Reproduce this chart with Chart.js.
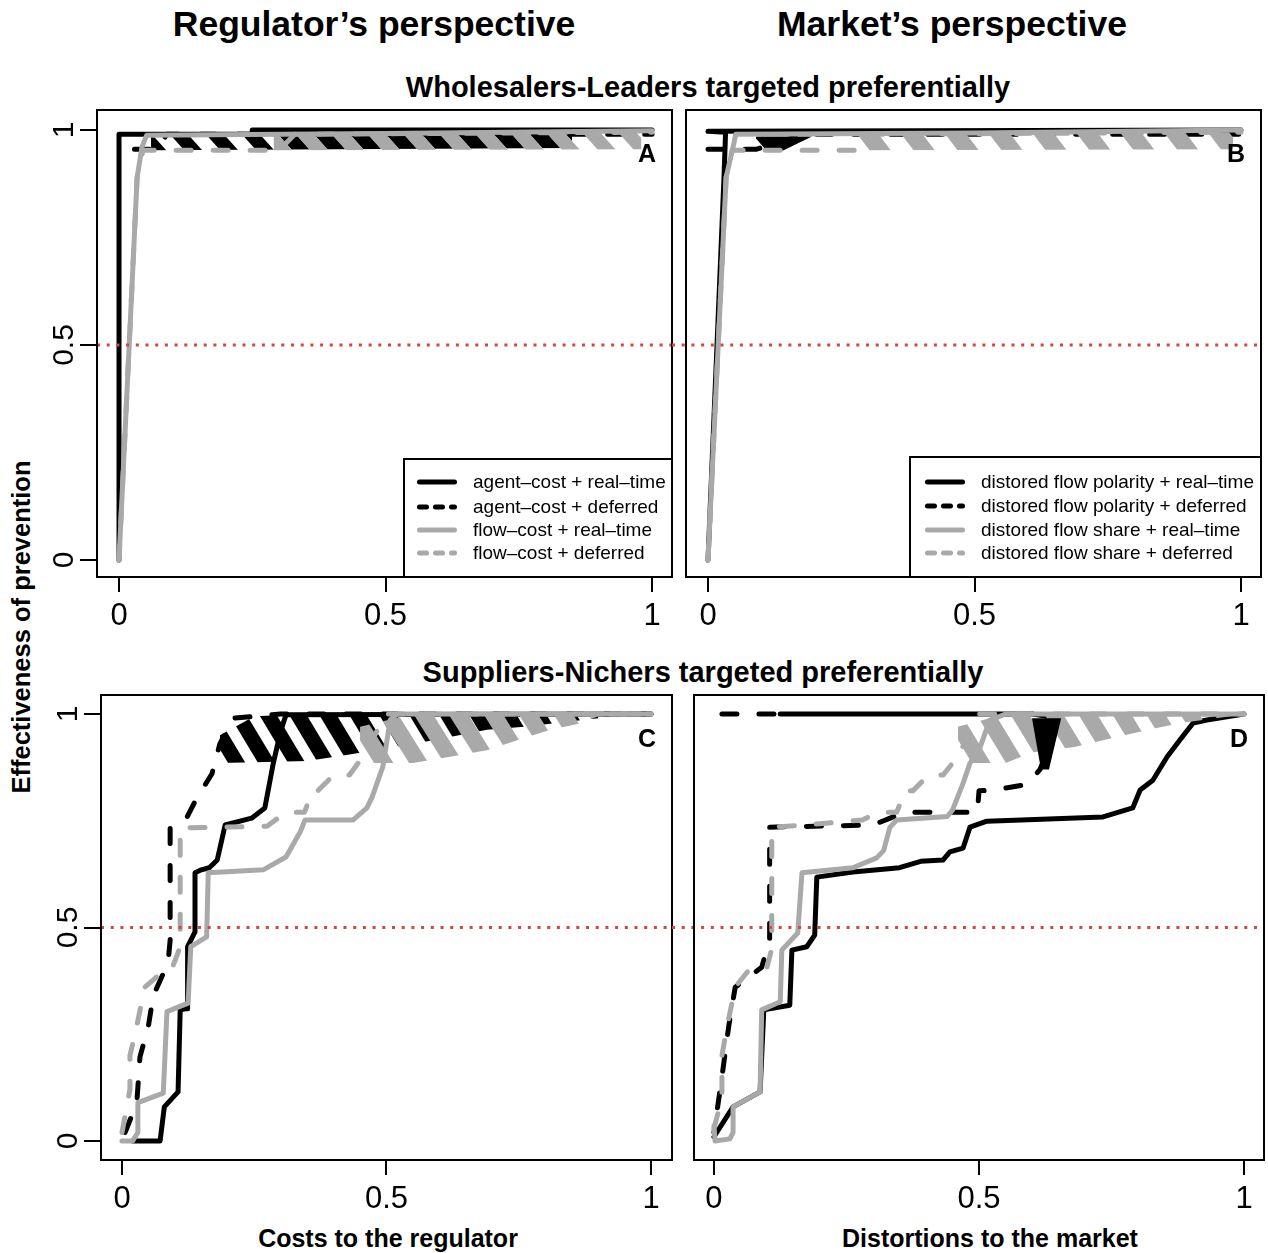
<!DOCTYPE html>
<html>
<head>
<meta charset="utf-8">
<script src="https://cdn.jsdelivr.net/npm/chart.js@4.4.1/dist/chart.umd.min.js"></script>
<style>
  body { margin: 0; background: #fff; width: 1268px; height: 1253px; position: relative; overflow: hidden;
         font-family: 'Liberation Sans', Arial, Helvetica, sans-serif; }
  canvas { position: absolute; }
  .t { position: absolute; transform: translate(-50%, -50%); white-space: nowrap; font-weight: bold; line-height: 1; color: #000; }
</style>
</head>
<body>
<div class="t" style="left:374px;top:25px;font-size:35.5px">Regulator’s perspective</div>
<div class="t" style="left:952px;top:25px;font-size:35.5px">Market’s perspective</div>
<div class="t" style="left:708px;top:87px;font-size:29px">Wholesalers-Leaders targeted preferentially</div>
<div class="t" style="left:703px;top:672px;font-size:29px">Suppliers-Nichers targeted preferentially</div>
<div class="t" style="left:22px;top:627px;font-size:25.5px;transform:translate(-50%,-50%) rotate(-90deg)">Effectiveness of prevention</div>
<div class="t" style="left:388px;top:1238px;font-size:25px">Costs to the regulator</div>
<div class="t" style="left:990px;top:1238px;font-size:25px">Distortions to the market</div>

<canvas id="cA" style="left:40px;top:100px" width="638" height="537"></canvas>
<canvas id="cB" style="left:666px;top:100px" width="601" height="537"></canvas>
<canvas id="cC" style="left:40px;top:685px" width="638" height="535"></canvas>
<canvas id="cD" style="left:662px;top:685px" width="606" height="535"></canvas>

<script>
const FONT = "'Liberation Sans', Arial, Helvetica, sans-serif";
const BLACK = '#000000';
const GREY = '#a9a9a9';

const xTicks = [0, 0.5, 1];
const yTicks = [0, 0.5, 1];
const threshold = 0.5;

const regulatorLabels = ['agent–cost + real–time', 'agent–cost + deferred', 'flow–cost + real–time', 'flow–cost + deferred'];
const marketLabels = ['distored flow polarity + real–time', 'distored flow polarity + deferred',
                      'distored flow share + real–time', 'distored flow share + deferred'];

// A: wholesalers-leaders, regulator
const aBlackSolid = [[0,0],[0,0.99],[0.25,0.99],[0.25,1],[1,1]];
const aBlackDashed = [[0.029,0.955],[0.07,0.955],[0.09,0.99],[1,0.99]];
const aBlackBandX = [0.06, 0.85];
const aBlackBandLo = [0.953, 0.958];
const aBlackBandHi = [0.988, 0.99];
const aGreySolid = [[0,0],[0.034,0.89],[0.043,0.96],[0.052,0.988],[0.5,0.992],[1,0.998]];
const aGreyDashed = [[0,0],[0.034,0.89],[0.045,0.953],[0.3,0.953],[0.33,0.99],[1,0.995]];
const aGreyBandX = [0.29, 0.98];
const aGreyBandLo = [0.953, 0.955];
const aGreyBandHi = [0.995, 0.998];

// B: wholesalers-leaders, market
const bBlackSolid = [[0,0],[0.03,0.89],[0.033,0.995],[0,0.997],[1,1]];
const bBlackDashed = [[0,0.955],[0.09,0.955],[0.18,0.99],[1,0.99]];
const bBlackBandX = [0.09, 0.11, 0.14, 0.195];
const bBlackBandLo = [0.98, 0.952, 0.952, 0.985];
const bBlackBandHi = [0.985, 0.985, 0.985, 0.985];
const bGreySolid = [[0,0],[0.034,0.89],[0.047,0.96],[0.052,0.99],[0.5,0.993],[1,1]];
const bGreyDashed = [[0,0],[0.034,0.89],[0.045,0.953],[0.28,0.953],[0.3,0.99],[1,0.995]];
const bGreyBandX = [0.27, 0.985];
const bGreyBandLo = [0.953, 0.955];
const bGreyBandHi = [0.99, 0.995];

// C: suppliers-nichers, regulator
const cBlackSolid = [[0.02,0],[0.072,0],[0.08,0.08],[0.106,0.115],[0.11,0.307],[0.123,0.31],[0.124,0.455],[0.138,0.49],
  [0.138,0.628],[0.15,0.635],[0.165,0.64],[0.18,0.658],[0.195,0.74],[0.245,0.756],[0.27,0.78],[0.286,0.885],[0.3,0.96],[0.31,0.998],[1,1]];
const cBlackDashed = [[0.006,0.02],[0.028,0.09],[0.034,0.197],[0.05,0.27],[0.059,0.34],[0.087,0.417],[0.091,0.47],[0.091,0.735],
  [0.122,0.756],[0.14,0.8],[0.17,0.86],[0.185,0.93],[0.21,0.99],[0.3,1],[1,1]];
const cBlackBandX = [0.185, 0.25, 0.35, 0.43, 0.55, 0.62, 0.69, 0.76, 0.83, 0.9];
const cBlackBandLo = [0.885, 0.887, 0.89, 0.905, 0.93, 0.946, 0.963, 0.97, 0.98, 0.99];
const cBlackBandHi = [0.95, 0.995, 1, 1, 1, 1, 1, 1, 1, 1];
const cGreySolid = [[0,0],[0.02,0],[0.03,0.02],[0.03,0.09],[0.078,0.112],[0.085,0.303],[0.125,0.323],[0.13,0.455],[0.16,0.478],
  [0.163,0.628],[0.267,0.635],[0.31,0.665],[0.337,0.724],[0.346,0.752],[0.437,0.752],[0.463,0.78],[0.473,0.806],[0.493,0.876],
  [0.507,0.986],[0.52,1],[1,1]];
const cGreyDashed = [[0,0.02],[0.015,0.12],[0.015,0.2],[0.028,0.27],[0.043,0.36],[0.08,0.4],[0.095,0.405],[0.11,0.455],[0.11,0.733],
  [0.274,0.737],[0.31,0.77],[0.345,0.77],[0.36,0.82],[0.37,0.82],[0.4,0.857],[0.43,0.857],[0.455,0.9],[0.5,1],[1,1]];
const cGreyBandX = [0.45, 0.55, 0.62, 0.69, 0.76, 0.81, 0.87, 0.9];
const cGreyBandLo = [0.885, 0.885, 0.9, 0.915, 0.944, 0.963, 0.979, 0.995];
const cGreyBandHi = [0.97, 1, 1, 1, 1, 1, 1, 1];

// D: suppliers-nichers, market
const dBlackSolid = [[0,0.01],[0.036,0.08],[0.087,0.115],[0.094,0.307],[0.143,0.318],[0.147,0.447],[0.175,0.455],[0.19,0.482],
  [0.194,0.618],[0.262,0.63],[0.35,0.64],[0.39,0.655],[0.432,0.658],[0.445,0.677],[0.47,0.686],[0.483,0.735],[0.515,0.749],
  [0.734,0.759],[0.79,0.78],[0.804,0.822],[0.828,0.845],[0.855,0.9],[0.879,0.939],[0.904,0.979],[0.93,0.986],[1,1]];
const dBlackDashed = [[0.015,1],[0.125,1],[0.6,1],[0.655,0.99],[0.635,0.93],[0.615,0.87],[0.59,0.835],[0.53,0.822],[0.5,0.82],[0.497,0.77],
  [0.36,0.77],[0.33,0.755],[0.3,0.74],[0.105,0.735],[0.105,0.47],[0.09,0.407],[0.04,0.36],[0.028,0.27],[0.015,0.15],[0,0.02]];
const dBlackBandX = [0.6, 0.617, 0.632, 0.655];
const dBlackBandLo = [0.99, 0.87, 0.87, 0.99];
const dBlackBandHi = [0.99, 0.99, 0.99, 0.99];
const dGreySolid = [[0,0.035],[0.002,0],[0.03,0.005],[0.036,0.02],[0.036,0.08],[0.087,0.115],[0.09,0.307],[0.125,0.326],
  [0.128,0.447],[0.158,0.487],[0.166,0.628],[0.262,0.64],[0.307,0.663],[0.32,0.68],[0.332,0.735],[0.345,0.752],[0.44,0.76],
  [0.45,0.775],[0.47,0.838],[0.483,0.885],[0.5,0.915],[0.52,0.985],[0.55,1],[1,1]];
const dGreyDashed = [[0,0.03],[0.015,0.1],[0.015,0.2],[0.025,0.27],[0.04,0.36],[0.07,0.407],[0.1,0.407],[0.109,0.45],[0.109,0.735],
  [0.17,0.74],[0.28,0.752],[0.31,0.77],[0.345,0.77],[0.36,0.82],[0.375,0.82],[0.405,0.857],[0.432,0.857],[0.46,0.9],[0.5,1],[1,1]];
const dGreyBandX = [0.46, 0.55, 0.6, 0.68, 0.76, 0.82, 0.88, 0.975];
const dGreyBandLo = [0.885, 0.885, 0.91, 0.923, 0.946, 0.963, 0.979, 0.995];
const dGreyBandHi = [0.97, 1, 1, 1, 1, 1, 1, 1];

// diagonal stripes, like a dashed line zig-zagging fast
function hatch(ctx, color, period, rise, frac, shift) {
  const c = document.createElement('canvas');
  c.width = period; c.height = rise;
  const g = c.getContext('2d');
  g.strokeStyle = color;
  g.lineWidth = period * frac * rise / Math.hypot(period, rise);
  for (let k = -2; k <= 2; k++) {
    const x0 = shift + k * period;
    g.beginPath();
    g.moveTo(x0 - period, -rise);
    g.lineTo(x0 + 2 * period, 2 * rise);
    g.stroke();
  }
  return ctx.createPattern(c, 'repeat');
}

function lineDs(pts, color, dashed, extra) {
  return Object.assign({
    data: pts.map(p => ({x: p[0], y: p[1]})),
    borderColor: color, borderWidth: 5,
    borderDash: dashed ? [15, 22] : [],
    borderCapStyle: 'round', borderJoinStyle: 'round',
    pointRadius: 0, fill: false, tension: 0
  }, extra || {});
}

function bandDs(xs, lo, hi, fillStyle) {
  return [
    { data: xs.map((x, i) => ({x: x, y: hi[i]})), borderColor: 'rgba(0,0,0,0)', borderWidth: 1, pointRadius: 0, fill: false },
    { data: xs.map((x, i) => ({x: x, y: lo[i]})), borderColor: 'rgba(0,0,0,0)', borderWidth: 1, pointRadius: 0,
      fill: '-1', backgroundColor: fillStyle }
  ];
}

const panelDecor = {
  id: 'panelDecor',
  afterDatasetsDraw(chart, args, opts) {
    const {ctx, chartArea: a} = chart;
    const ty = chart.scales.y.getPixelForValue(threshold);
    ctx.save();
    ctx.strokeStyle = '#d6473b';
    ctx.lineWidth = 3;
    ctx.lineCap = 'butt';
    ctx.setLineDash([3, 6.7]);
    ctx.beginPath();
    ctx.moveTo(a.left - opts.extendLeft, ty);
    ctx.lineTo(a.right, ty);
    ctx.stroke();
    ctx.setLineDash([]);
    ctx.strokeStyle = '#000';
    ctx.lineWidth = 2;
    ctx.strokeRect(a.left, a.top, a.right - a.left, a.bottom - a.top);
    ctx.restore();
  },
  afterDraw(chart, args, opts) {
    const {ctx, chartArea: a} = chart;
    ctx.save();
    ctx.fillStyle = '#000';
    if (opts.yLabels) {
      ctx.font = '30px ' + FONT;
      ctx.textAlign = 'center';
      ctx.textBaseline = 'middle';
      yTicks.forEach(v => {
        ctx.save();
        ctx.translate(a.left - 32, chart.scales.y.getPixelForValue(v));
        ctx.rotate(-Math.PI / 2);
        ctx.fillText(String(v), 0, 0);
        ctx.restore();
      });
    }
    ctx.font = 'bold 25px ' + FONT;
    ctx.textAlign = 'center';
    ctx.textBaseline = 'middle';
    ctx.fillText(opts.letter, a.right - 25, a.top + 45);

    const L = opts.legend;
    if (L) {
      const lx = a.right - L.width, ly = a.bottom - L.height;
      ctx.fillStyle = '#fff';
      ctx.fillRect(lx, ly, L.width, L.height);
      ctx.strokeStyle = '#000';
      ctx.lineWidth = 2;
      ctx.strokeRect(lx, ly, L.width, L.height);
      const colors = [BLACK, BLACK, GREY, GREY];
      L.labels.forEach((t, i) => {
        const yy = ly + L.rows[i];
        ctx.strokeStyle = colors[i];
        ctx.lineWidth = 5;
        ctx.lineCap = 'round';
        ctx.setLineDash(i % 2 ? [7, 9] : []);
        ctx.beginPath();
        ctx.moveTo(lx + L.sample[0], yy);
        ctx.lineTo(lx + L.sample[1], yy);
        ctx.stroke();
        ctx.setLineDash([]);
        ctx.fillStyle = '#000';
        ctx.font = '19px ' + FONT;
        ctx.textAlign = 'left';
        ctx.textBaseline = 'middle';
        ctx.fillText(t, lx + L.textX, yy + 1);
      });
    }
    ctx.restore();
  }
};

function makePanel(id, cfg) {
  const ctx = document.getElementById(id).getContext('2d');
  const ds = cfg.datasets(ctx);
  ds.forEach((d, i) => { d.order = ds.length - i; });
  new Chart(ctx, {
    type: 'line',
    data: { datasets: ds },
    options: {
      responsive: false,
      animation: false,
      events: [],
      layout: { padding: { top: 10, right: cfg.padRight, left: 0, bottom: 0 } },
      scales: {
        x: {
          type: 'linear', min: cfg.xMin, max: cfg.xMax,
          afterBuildTicks: s => { s.ticks = xTicks.map(v => ({value: v})); },
          afterFit: s => { s.height = 60; },
          border: { display: false },
          grid: { display: true, drawOnChartArea: false, drawTicks: true, tickLength: 15, color: '#000', lineWidth: 2 },
          ticks: { color: '#000', font: { family: FONT, size: 31 }, padding: 6, maxRotation: 0, autoSkip: false,
                   callback: v => String(v) }
        },
        y: {
          type: 'linear', min: cfg.yMin, max: cfg.yMax,
          afterBuildTicks: s => { s.ticks = yTicks.map(v => ({value: v})); },
          afterFit: s => { s.width = cfg.yWidth; },
          border: { display: false },
          grid: { display: cfg.yAxis, drawOnChartArea: false, drawTicks: true, tickLength: 17, color: '#000', lineWidth: 2 },
          ticks: { display: false }
        }
      },
      plugins: {
        legend: { display: false },
        tooltip: { enabled: false },
        panelDecor: { letter: cfg.letter, yLabels: cfg.yAxis, extendLeft: cfg.extendLeft, legend: cfg.legend }
      }
    },
    plugins: [panelDecor]
  });
}

makePanel('cA', {
  letter: 'A', yAxis: true, yWidth: 57, padRight: 6, extendLeft: 0,
  xMin: -0.0413, xMax: 1.0375, yMin: -0.0395, yMax: 1.0465,
  legend: { labels: regulatorLabels, width: 268, height: 118, rows: [23, 48, 71, 94], sample: [15.5, 50.5], textX: 69 },
  datasets: ctx => [
    lineDs(aBlackSolid, BLACK, false),
    ...bandDs(aBlackBandX, aBlackBandLo, aBlackBandHi, hatch(ctx, BLACK, 36, 40, 0.5, 0)),
    lineDs(aBlackDashed, BLACK, true),
    lineDs(aGreySolid, GREY, false),
    ...bandDs(aGreyBandX, aGreyBandLo, aGreyBandHi, hatch(ctx, GREY, 36, 40, 0.5, 18)),
    lineDs(aGreyDashed, GREY, true)
  ]
});

makePanel('cB', {
  letter: 'B', yAxis: false, yWidth: 20, padRight: 6, extendLeft: 14,
  xMin: -0.0413, xMax: 1.0375, yMin: -0.0395, yMax: 1.0465,
  legend: { labels: marketLabels, width: 351, height: 120, rows: [25, 49, 73, 96], sample: [17.5, 52.5], textX: 71 },
  datasets: ctx => [
    lineDs(bBlackSolid, BLACK, false),
    ...bandDs(bBlackBandX, bBlackBandLo, bBlackBandHi, BLACK),
    lineDs(bBlackDashed, BLACK, true),
    lineDs(bGreySolid, GREY, false),
    ...bandDs(bGreyBandX, bGreyBandLo, bGreyBandHi, hatch(ctx, GREY, 44, 58, 0.48, 0)),
    lineDs(bGreyDashed, GREY, true)
  ]
});

makePanel('cC', {
  letter: 'C', yAxis: true, yWidth: 61, padRight: 6, extendLeft: 0,
  xMin: -0.0397, xMax: 1.0397, yMin: -0.0445, yMax: 1.0445,
  legend: null,
  datasets: ctx => [
    lineDs(cBlackSolid, BLACK, false),
    ...bandDs(cBlackBandX, cBlackBandLo, cBlackBandHi, hatch(ctx, BLACK, 30, 50, 0.58, 0)),
    lineDs(cBlackDashed, BLACK, true),
    lineDs(cGreySolid, GREY, false),
    ...bandDs(cGreyBandX, cGreyBandLo, cGreyBandHi, hatch(ctx, GREY, 35, 56, 0.55, 15)),
    lineDs(cGreyDashed, GREY, true)
  ]
});

makePanel('cD', {
  letter: 'D', yAxis: false, yWidth: 32, padRight: 4, extendLeft: 22,
  xMin: -0.0377, xMax: 1.0377, yMin: -0.0445, yMax: 1.0445,
  legend: null,
  datasets: ctx => [
    lineDs(dBlackSolid, BLACK, false),
    lineDs(dBlackDashed, BLACK, true, {
      segment: { borderDash: s => (s.p0.parsed.y >= 0.999 && s.p1.parsed.y >= 0.999 && s.p0.parsed.x >= 0.12) ? [] : undefined }
    }),
    lineDs(dGreySolid, GREY, false),
    ...bandDs(dGreyBandX, dGreyBandLo, dGreyBandHi, hatch(ctx, GREY, 34, 56, 0.55, 0)),
    lineDs(dGreyDashed, GREY, true),
    ...bandDs(dBlackBandX, dBlackBandLo, dBlackBandHi, BLACK)
  ]
});
</script>
</body>
</html>
